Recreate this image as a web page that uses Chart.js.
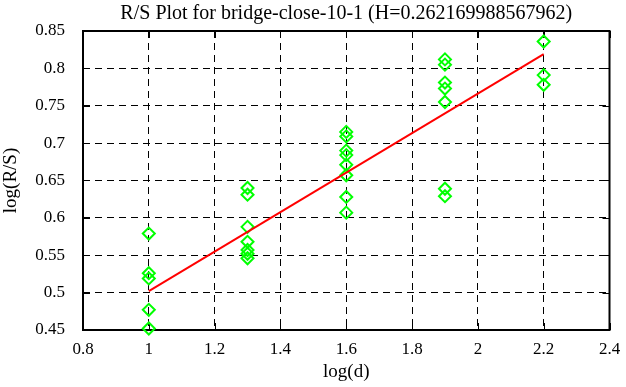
<!DOCTYPE html>
<html>
<head>
<meta charset="utf-8">
<script src="https://cdn.jsdelivr.net/npm/chart.js@4"></script>
<style>
  html, body { margin: 0; padding: 0; background: #fff; }
  #wrap { width: 626px; height: 387px; }
</style>
</head>
<body>
<div id="wrap"><canvas id="rsPlot" width="626" height="387"></canvas></div>
<script>
/* R/S plot: log(R/S) against log(d), with the least-squares fit line */

const titleText = 'R/S Plot for bridge-close-10-1 (H=0.262169988567962)';

// log(d) levels and the log(R/S) samples read at each of them
const logD = [1, 1.3, 1.6, 1.9, 2.2];
const rsAtD1 = [0.579, 0.526, 0.519, 0.477, 0.452];
const rsAtD13 = [0.640, 0.631, 0.588, 0.568, 0.557, 0.552, 0.546];
const rsAtD16 = [0.715, 0.709, 0.690, 0.684, 0.671, 0.657, 0.628, 0.607];
const rsAtD19 = [0.812, 0.805, 0.781, 0.773, 0.755, 0.639, 0.629];
const rsAtD22 = [0.836, 0.791, 0.778];
const rsGroups = [rsAtD1, rsAtD13, rsAtD16, rsAtD19, rsAtD22];

// fit line end points
const fitX = [1, 2.2];
const fitY = [0.502, 0.819];

const xTicks = [0.8, 1, 1.2, 1.4, 1.6, 1.8, 2, 2.2, 2.4];
const yTicks = [0.45, 0.5, 0.55, 0.6, 0.65, 0.7, 0.75, 0.8, 0.85];

const SERIF = "'Liberation Serif', 'Times New Roman', serif";

const points = [];
rsGroups.forEach((grp, i) => grp.forEach(v => points.push({ x: logD[i], y: v })));

// title is centred over the plot box, not over the whole canvas
const plotTitle = {
  id: 'plotTitle',
  afterDraw(chart){
    const { ctx, chartArea: a } = chart;
    ctx.save();
    ctx.fillStyle = '#000';
    ctx.font = `20px ${SERIF}`;
    ctx.textAlign = 'center';
    ctx.textBaseline = 'alphabetic';
    ctx.fillText(titleText, (a.left + a.right) / 2, 19);
    ctx.restore();
  }
};

// solid box round the plot plus the short inward tick marks on all four sides
const frame = {
  id: 'frame',
  beforeDatasetsDraw(chart){
    const { ctx, chartArea: a, scales } = chart;
    const len = 7;
    ctx.save();
    ctx.strokeStyle = '#000';
    ctx.lineWidth = 1;
    ctx.setLineDash([]);
    ctx.beginPath();
    xTicks.forEach(v => {
      const px = Math.round(scales.x.getPixelForValue(v)) + 0.5;
      ctx.moveTo(px, a.bottom); ctx.lineTo(px, a.bottom - len);
      ctx.moveTo(px, a.top);    ctx.lineTo(px, a.top + len);
    });
    yTicks.forEach(v => {
      const py = Math.round(scales.y.getPixelForValue(v)) + 0.5;
      ctx.moveTo(a.left, py);  ctx.lineTo(a.left + len, py);
      ctx.moveTo(a.right, py); ctx.lineTo(a.right - len, py);
    });
    ctx.stroke();
    ctx.lineWidth = 2;
    ctx.strokeRect(a.left, a.top, a.right - a.left, a.bottom - a.top);
    ctx.restore();
  }
};

const fmt = v => String(+Number(v).toFixed(2));

new Chart(document.getElementById('rsPlot'), {
  type: 'scatter',
  data: {
    datasets: [
      {
        label: 'fit',
        data: fitX.map((x, i) => ({ x, y: fitY[i] })),
        showLine: true,
        borderColor: '#ff0000',
        borderWidth: 2,
        pointRadius: 0,
        clip: false,
      },
      {
        label: 'R/S',
        data: points,
        pointStyle: 'rectRot',
        pointRadius: 6,
        borderColor: '#00ff00',
        backgroundColor: 'rgba(0,0,0,0)',
        borderWidth: 2,
        clip: false,
      },
    ]
  },
  options: {
    responsive: false,
    animation: false,
    devicePixelRatio: 1,
    layout: { padding: { left: 0, right: 16.5, top: 31, bottom: 0 } },
    plugins: {
      legend: { display: false },
      tooltip: { enabled: false },
      title: { display: false },
    },
    scales: {
      x: {
        type: 'linear', min: 0.8, max: 2.4,
        afterBuildTicks: s => { s.ticks = xTicks.map(v => ({ value: v })); },
        // fixed axis height; the last label fits inside the right margin anyway
        afterFit: s => { s.height = 57; s.paddingRight = 0; s.paddingLeft = 0; },
        ticks: { color: '#000', font: { family: SERIF, size: 17 }, padding: 9, callback: fmt, maxRotation: 0 },
        grid: { color: '#000', lineWidth: 1, drawTicks: false, tickLength: 0 },
        border: { display: false, dash: [7, 5] },
        title: { display: true, text: 'log(d)', color: '#000', font: { family: SERIF, size: 19 }, padding: { top: 2, bottom: 4 } },
      },
      y: {
        type: 'linear', min: 0.45, max: 0.85,
        afterBuildTicks: s => { s.ticks = yTicks.map(v => ({ value: v })); },
        afterFit: s => { s.width = 83; },
        ticks: { color: '#000', font: { family: SERIF, size: 17 }, padding: 18, callback: fmt },
        grid: { color: '#000', lineWidth: 1, drawTicks: false, tickLength: 0 },
        border: { display: false, dash: [7, 5] },
        title: { display: true, text: 'log(R/S)', color: '#000', font: { family: SERIF, size: 19 }, padding: { top: 0, bottom: 0 } },
      },
    },
  },
  plugins: [frame, plotTitle],
});
</script>
</body>
</html>
